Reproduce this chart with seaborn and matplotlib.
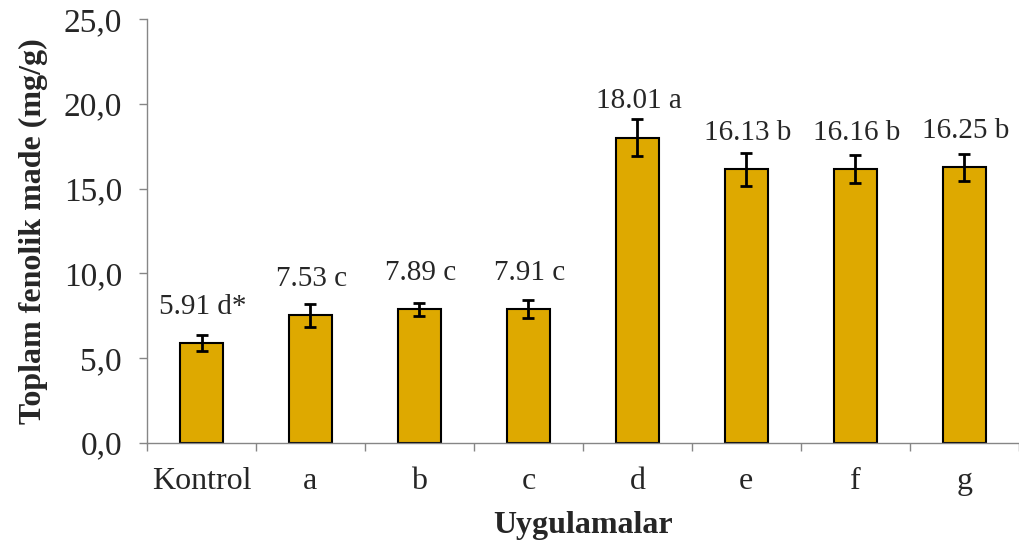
"""Total phenolic content per treatment, bar chart with error bars."""
import matplotlib

matplotlib.use("Agg")
import matplotlib.pyplot as plt
import numpy as np
import pandas as pd
import seaborn as sns

categories = ["Kontrol", "a", "b", "c", "d", "e", "f", "g"]
means = [5.91, 7.53, 7.89, 7.91, 18.01, 16.13, 16.16, 16.25]
errors = [0.47, 0.69, 0.39, 0.53, 1.11, 0.95, 0.84, 0.79]
letters = ["d*", "c", "c", "c", "a", "b", "b", "b"]
yticks = [0, 5, 10, 15, 20, 25]
ytick_labels = ["0,0", "5,0", "10,0", "15,0", "20,0", "25,0"]

sns.set_theme(style="white")
plt.rcParams["font.family"] = ["Liberation Serif", "DejaVu Serif"]

bar_color = "#DEA900"
axis_gray = "#868686"

df = pd.DataFrame({"Uygulamalar": categories, "value": means})

fig = plt.figure(figsize=(10.19, 5.44), dpi=100)
ax = fig.add_axes([0.1443, 0.1857, 0.8555, 0.7793])

sns.barplot(
    data=df,
    x="Uygulamalar",
    y="value",
    color=bar_color,
    saturation=1,
    width=0.4,
    edgecolor="black",
    linewidth=1.5,
    errorbar=None,
    ax=ax,
)
xs = np.arange(len(categories))
ax.errorbar(
    xs, means, yerr=errors, fmt="none", ecolor="black",
    elinewidth=2, capsize=4.2, capthick=2, zorder=5,
)

for x, m, lab in zip(xs, means, letters):
    ax.annotate(
        f"{m:.2f} {lab}", (x, m), xytext=(1, 21), textcoords="offset points",
        ha="center", va="baseline", fontsize=21,
    )

ax.set_xlim(-0.5, len(categories) - 0.5)
ax.set_ylim(0, 25)
ax.set_yticks(yticks)
ax.set_yticklabels(ytick_labels)
ax.set_xticks(xs)
ax.set_xticks(np.arange(-0.5, len(categories)), minor=True)
ax.tick_params(axis="x", which="major", length=0, labelsize=23, pad=17)
ax.tick_params(axis="x", which="minor", length=6, width=1, color=axis_gray,
               direction="out", bottom=True)
ax.tick_params(axis="y", length=6, width=1, color=axis_gray, labelsize=24,
               direction="out", left=True, pad=12)

for side in ["top", "right"]:
    ax.spines[side].set_visible(False)
for side in ["left", "bottom"]:
    ax.spines[side].set_color(axis_gray)
    ax.spines[side].set_linewidth(1)

ax.set_xlabel("Uygulamalar", fontsize=23, fontweight="bold", labelpad=11)
ax.set_ylabel("Toplam fenolik made (mg/g)", fontsize=23, fontweight="bold",
              labelpad=11)

fig.savefig("out.png", dpi=100)
